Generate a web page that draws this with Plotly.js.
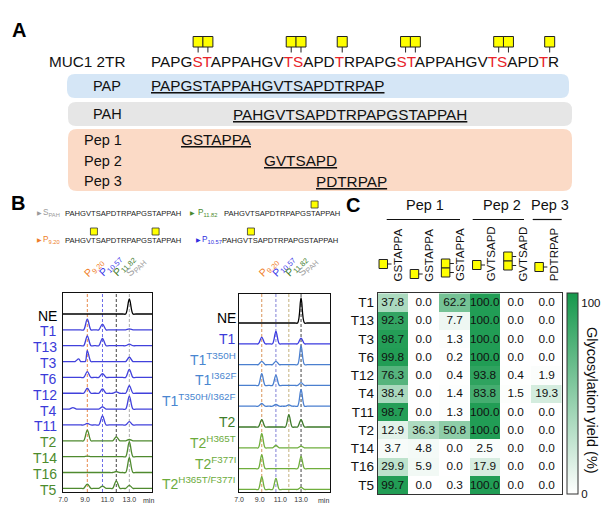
<!DOCTYPE html>
<html><head><meta charset="utf-8">
<script src="https://cdn.plot.ly/plotly-3.0.1.min.js"></script>
<style>html,body{margin:0;padding:0;background:#fff}#chart{width:615px;height:520px}</style>
</head><body><div id="chart"></div>
<script>
const FONT = 'Liberation Sans, Arial, sans-serif';
const W = 615, H = 520;
const PX = x => x / W, PY = y => 1 - y / H;

// ---------------- Panel A data ----------------
const muc1Seq = 'PAPGSTAPPAHGVTSAPDTRPAPGSTAPPAHGVTSAPDTR';
const muc1Sites = [4, 5, 13, 14, 18, 24, 25, 33, 34, 38];
const fragNames = ['PAP', 'PAH', 'Pep 1', 'Pep 2', 'Pep 3'];
const fragSeqs = ['PAPGSTAPPAHGVTSAPDTRPAP', 'PAHGVTSAPDTRPAPGSTAPPAH', 'GSTAPPA', 'GVTSAPD', 'PDTRPAP'];
const fragStart = [0, 8, 3, 11, 16];

// ---------------- Panel B data ----------------
const pahSeq = 'PAHGVTSAPDTRPAPGSTAPPAH';
const legendNames = ['S<sub>PAH</sub>', 'P<sub>11.82</sub>', 'P<sub>9.20</sub>', 'P<sub>10.57</sub>'];
const legendSites = [[], [17], [5, 17], [5]];
const rtLabels = ['P<sub>9.20</sub>', 'P<sub>10.57</sub>', 'P<sub>11.82</sub>', 'S<sub>PAH</sub>'];
const rtTimes = [9.20, 10.57, 11.82, 13.0];

const leftSamples = ['NE', 'T1', 'T13', 'T3', 'T6', 'T12', 'T4', 'T11', 'T2', 'T14', 'T16', 'T5'];
const leftP920  = [0, 10.7, 9.7, 11.0, 5.7, 5.0, 0, 1.5, 10.7, 0.5, 0, 4.3];
const leftP1057 = [0, 5.7, 7.3, 0, 3.8, 4.3, 2.3, 9.0, 0, 0, 0, 2.3];
const leftP1182 = [0, 0, 0, 0, 0, 1.3, 0, 0, 4.0, 0, 1.0, 7.5];
const leftSPAH  = [15, 1.0, 1.5, 4.3, 8.0, 7.5, 13, 3.3, 1.3, 15, 15, 3.0];
const leftMinorRT = [0, 0, 0, 8.42, 0, 0, 7.9, 0, 0, 0, 0, 0];
const leftMinorH  = [0, 0, 0, 2.7, 0, 0, 1.5, 0, 0, 0, 0, 0];

const rightSamples = ['NE', 'T1', 'T1<sup>T350H</sup>', 'T1<sup>I362F</sup>', 'T1<sup>T350H/I362F</sup>',
  'T2', 'T2<sup>H365T</sup>', 'T2<sup>F377I</sup>', 'T2<sup>H365T/F377I</sup>'];
const rightP920  = [0, 6.7, 3.3, 11.7, 2.7, 7.3, 14.3, 14.0, 12.7];
const rightP1057 = [0, 12.3, 3.3, 10.3, 1.7, 0, 2.3, 0, 11.0];
const rightP1182 = [0, 0, 0, 0, 1.3, 12.3, 0, 0, 0];
const rightSPAH  = [25, 5.7, 19, 2.7, 16.7, 7.3, 1.7, 12.3, 2.0];

// ---------------- Panel C data ----------------
const hmRows = ['T1', 'T13', 'T3', 'T6', 'T12', 'T4', 'T11', 'T2', 'T14', 'T16', 'T5'];
const hmCols = ['GSTAPPA', 'GSTAPPA', 'GSTAPPA', 'GVTSAPD', 'GVTSAPD', 'PDTRPAP'];
const colPep1a = [37.8, 92.3, 98.7, 99.8, 76.3, 38.4, 98.7, 12.9, 3.7, 29.9, 99.7];
const colPep1b = [0.0, 0.0, 0.0, 0.0, 0.0, 0.0, 0.0, 36.3, 4.8, 5.9, 0.0];
const colPep1c = [62.2, 7.7, 1.3, 0.2, 0.4, 1.4, 1.3, 50.8, 0.0, 0.0, 0.3];
const colPep2a = [100.0, 100.0, 100.0, 100.0, 93.8, 83.8, 100.0, 100.0, 2.5, 17.9, 100.0];
const colPep2b = [0.0, 0.0, 0.0, 0.0, 0.4, 1.5, 0.0, 0.0, 0.0, 0.0, 0.0];
const colPep3a = [0.0, 0.0, 0.0, 0.0, 1.9, 19.3, 0.0, 0.0, 0.0, 0.0, 0.0];
const pepGroups = ['Pep 1', 'Pep 2', 'Pep 3'];

// ---------------- helpers ----------------
const CW = {P:.667,A:.667,G:.778,S:.667,T:.611,H:.722,V:.667,D:.722,R:.722};
function charLeft(seq, idx, x0, fs) { let x = x0; for (let i = 0; i < idx; i++) x += CW[seq[i]] * fs; return x; }
function charCenter(seq, idx, x0, fs) { return charLeft(seq, idx, x0, fs) + CW[seq[idx]] * fs / 2; }

const shapes = [], annotations = [], traces = [];
function txt(text, x, y, o) {
  o = o || {};
  annotations.push({
    text, x: PX(x), y: PY(y), xref: 'paper', yref: 'paper', showarrow: false,
    xanchor: o.xanchor || 'left', yanchor: o.yanchor || 'middle', textangle: o.angle || 0,
    borderpad: 0, borderwidth: 0,
    font: {family: FONT, size: o.size || 14, color: o.color || '#111', weight: o.weight || 'normal'}
  });
}
function rectPx(x0, y0, x1, y1, fill, lc, lw) {
  shapes.push({type: 'rect', xref: 'paper', yref: 'paper', x0: PX(x0), x1: PX(x1), y0: PY(y1), y1: PY(y0),
    fillcolor: fill, line: {color: lc || '#222', width: lw === undefined ? 1 : lw}, layer: 'above'});
}
function linePx(x0, y0, x1, y1, color, w) {
  shapes.push({type: 'line', xref: 'paper', yref: 'paper', x0: PX(x0), x1: PX(x1), y0: PY(y0), y1: PY(y1),
    line: {color: color, width: w}, layer: 'above'});
}
function roundRect(x0, y0, x1, y1, r, fill) {
  const P = (x, y) => PX(x).toFixed(5) + ',' + PY(y).toFixed(5);
  const path = 'M' + P(x0 + r, y0) + ' L' + P(x1 - r, y0) + ' Q' + P(x1, y0) + ' ' + P(x1, y0 + r) +
    ' L' + P(x1, y1 - r) + ' Q' + P(x1, y1) + ' ' + P(x1 - r, y1) + ' L' + P(x0 + r, y1) +
    ' Q' + P(x0, y1) + ' ' + P(x0, y1 - r) + ' L' + P(x0, y0 + r) + ' Q' + P(x0, y0) + ' ' + P(x0 + r, y0) + ' Z';
  shapes.push({type: 'path', xref: 'paper', yref: 'paper', path, fillcolor: fill, line: {width: 0}, layer: 'below'});
}

// ---------------- Panel A ----------------
txt('<b>A</b>', 12, 30, {size: 20, color: '#000'});
const seqX0 = 150.5, seqFS = 15.3;
txt('MUC1 2TR', 49, 61.5, {size: 15.3});
let muc = '';
for (let i = 0; i < muc1Seq.length; i++) {
  muc += muc1Sites.includes(i) ? '<span style="color:#e8232a">' + muc1Seq[i] + '</span>' : muc1Seq[i];
}
txt(muc, seqX0, 61.5, {size: seqFS});
muc1Sites.forEach(s => {
  const cx = charCenter(muc1Seq, s, seqX0, seqFS);
  rectPx(cx - 5, 36.5, cx + 5, 47, '#ffff00', '#222', 1);
  linePx(cx, 47, cx, 52.5, '#222', 1);
});
roundRect(67, 74, 569, 98, 8, '#d5e6f6');
roundRect(68, 102, 572, 126, 8, '#e6e6e6');
roundRect(68, 129, 572, 191, 9, '#fbdac6');
const fragY = [86, 114, 140, 160.5, 181];
const fragLabelX = [107, 107, 103, 103, 103];
fragNames.forEach((n, i) => {
  txt(n, fragLabelX[i], fragY[i], {xanchor: 'center', size: 14.5});
  txt('<u>' + fragSeqs[i] + '</u>', charLeft(muc1Seq, fragStart[i], seqX0, seqFS), fragY[i], {size: seqFS});
});

// ---------------- Panel B ----------------
txt('<b>B</b>', 11, 203, {size: 20, color: '#000'});
const legX = [[39, 43, 65], [192, 198, 224], [39, 43, 65], [198, 202, 222]];
const legY = [213, 213, 240, 240];
const legColors = ['#9a9a9a', '#4a8a2e', '#ee7d2a', '#3030e0'];
const legFS = 7.6;
legendNames.forEach((n, i) => {
  txt('▶', legX[i][0], legY[i], {xanchor: 'center', size: 6, color: legColors[i]});
  txt(n, legX[i][1], legY[i], {size: 8.2, color: legColors[i]});
  txt(pahSeq, legX[i][2], legY[i], {size: legFS, color: '#222'});
  legendSites[i].forEach(s => {
    const cx = charCenter(pahSeq, s, legX[i][2], legFS);
    rectPx(cx - 3.5, legY[i] - 12, cx + 3.5, legY[i] - 5, '#ffff00', '#333', 0.8);
  });
});

const rtColors = ['#f07d28', '#3535e8', '#3d7a2a', '#a0a0a0'];
function chromXY(peaks, xmax) {
  const pts = [[7, 0], [xmax, 0]];
  peaks.forEach(([t, h]) => {
    if (!(h > 0)) return;
    pts.push([t - 0.6, 0], [t - 0.33, 0], [t, h], [t + 0.33, 0], [t + 0.6, 0]);
  });
  pts.sort((a, b) => a[0] - b[0]);
  return {x: pts.map(p => p[0]), y: pts.map(p => p[1])};
}

// left chromatogram
const L = {x0: 63, x1: 152, y0: 293, y1: 492, xmax: 15.05};
const leftColors = leftSamples.map((s, i) => i === 0 ? '#000' : (i <= 7 ? '#4141dc' : '#4f8a2f'));
const leftLabelColors = leftSamples.map((s, i) => i === 0 ? '#000' : (i <= 7 ? '#3b3bd9' : '#4d8b2d'));
leftSamples.forEach((s, i) => {
  const basePx = 314 + 15.85 * i;
  const off = L.y1 - basePx;
  const c = chromXY([[rtTimes[0], leftP920[i]], [rtTimes[1], leftP1057[i]], [rtTimes[2], leftP1182[i]],
    [rtTimes[3], leftSPAH[i]], [leftMinorRT[i], leftMinorH[i]]], L.xmax);
  traces.push({x: c.x, y: c.y.map(v => v + off), xaxis: 'x', yaxis: 'y', mode: 'lines',
    line: {color: leftColors[i], width: 1.3, shape: 'spline', smoothing: 1}, hoverinfo: 'skip'});
  txt(s, 57, basePx + 1.5, {xanchor: 'right', size: 14, color: leftLabelColors[i]});
});

// right chromatogram
const R = {x0: 239, x1: 330, y0: 294, y1: 492, xmax: 15.8};
const rightColors = ['#000', '#3a3ae0', '#4a7fcf', '#4a7fcf', '#4a7fcf', '#3d7a2a', '#6fae3c', '#6fae3c', '#6fae3c'];
const rightLabelColors = ['#000', '#3b3bd9', '#4a86d0', '#4a86d0', '#4a86d0', '#3f7d2a', '#6cab3c', '#6cab3c', '#6cab3c'];
rightSamples.forEach((s, i) => {
  const basePx = 323 + 20.8 * i;
  const off = R.y1 - basePx;
  const c = chromXY([[rtTimes[0], rightP920[i]], [rtTimes[1], rightP1057[i]], [rtTimes[2], rightP1182[i]],
    [rtTimes[3], rightSPAH[i]]], R.xmax);
  traces.push({x: c.x, y: c.y.map(v => v + off), xaxis: 'x2', yaxis: 'y2', mode: 'lines',
    line: {color: rightColors[i], width: 1.3, shape: 'spline', smoothing: 1}, hoverinfo: 'skip'});
  txt(s, 236, basePx + 3, {xanchor: 'right', yanchor: 'bottom', size: 14, color: rightLabelColors[i]});
});

// markers, dashed lines, rotated labels for both panels
const dashColors = [['#e8894a', '#6a6ae8', '#444444', '#aaaaaa'], ['#d9955a', '#7f7fd6', '#c4b07c', '#444444']];
[['x', 'y', L, 208], ['x2', 'y2', R, 207]].forEach(([xa, ya, P, ym], pi) => {
  traces.push({x: rtTimes, y: rtTimes.map(() => ym), xaxis: xa, yaxis: ya, mode: 'markers', cliponaxis: false,
    marker: {symbol: 'triangle-down', size: 8.5, color: rtColors, line: {width: 0}}, hoverinfo: 'skip'});
  rtTimes.forEach((t, k) => {
    shapes.push({type: 'line', xref: xa, yref: ya + ' domain', x0: t, x1: t, y0: 0, y1: 1,
      line: {color: dashColors[pi][k], width: 1, dash: '3px,2px'}, layer: 'below'});
    annotations.push({text: rtLabels[k], xref: xa, yref: 'paper', x: t, xshift: -6, y: PY(280),
      xanchor: 'left', yanchor: 'bottom', textangle: -45, showarrow: false, borderpad: 0, borderwidth: 0,
      font: {family: FONT, size: 10.5, color: rtColors[k]}});
  });
  annotations.push({text: 'min', xref: xa, yref: 'paper', x: pi === 0 ? 14.75 : 15.2, y: PY(500), showarrow: false,
    xanchor: 'center', yanchor: 'middle', font: {family: FONT, size: 7, color: '#333'}});
});

// ---------------- Panel C ----------------
txt('<b>C</b>', 346, 205, {size: 20, color: '#000'});
const HM = {x0: 377.7, x1: 561.7, y0: 293.3, y1: 494};
const cellW = (HM.x1 - HM.x0) / 6;
const colCx = j => HM.x0 + (j + 0.5) * cellW;
const pepTextX = [425, 501.7, 550];
const pepLine = [[386.7, 460], [472.7, 524], [532.7, 561.7]];
pepGroups.forEach((g, i) => {
  txt(g, pepTextX[i], 205, {xanchor: 'center', size: 14.5});
  linePx(pepLine[i][0], 219.5, pepLine[i][1], 219.5, '#111', 1.2);
});
const glyY = [[264], [274], [263.5, 272.5], [265], [256.5, 265.5], [267]];
hmCols.forEach((c, j) => {
  const cx = colCx(j);
  txt(c, cx + 4.5 + 0.6 * j, 281.5, {xanchor: 'center', yanchor: 'bottom', angle: -90, size: 11.5});
  const gl = cx - 14 + 0.5 * j;
  glyY[j].forEach(yc => {
    rectPx(gl, yc - 4.5, gl + 8.5, yc + 4.5, '#ffff00', '#222', 1);
    linePx(gl + 8.5, yc, gl + 12.5, yc, '#222', 1);
  });
});
const z = hmRows.map((r, i) => [colPep1a[i], colPep1b[i], colPep1c[i], colPep2a[i], colPep2b[i], colPep3a[i]]);
traces.push({
  type: 'heatmap', z, x: [0, 1, 2, 3, 4, 5], y: hmRows, xaxis: 'x3', yaxis: 'y3',
  zmin: 0, zmax: 105, colorscale: [[0, '#ffffff'], [1, '#16984c']],
  texttemplate: '%{z:.1f}', textfont: {family: FONT, size: 11.8, color: '#111'}, hoverinfo: 'skip',
  colorbar: {x: PX(566.7), xanchor: 'left', y: PY(HM.y0), yanchor: 'top', len: (HM.y1 - HM.y0) / H, lenmode: 'fraction',
    thickness: 11, thicknessmode: 'pixels', xpad: 0, ypad: 0, outlinewidth: 1, outlinecolor: '#333',
    tickvals: [0, 100], ticktext: ['0', '100'], ticks: '', tickfont: {family: FONT, size: 11.5, color: '#111'}}
});
txt('Glycosylation yield (%)', 592, 400, {xanchor: 'center', angle: 90, size: 14.5});

const axBase = {showgrid: false, zeroline: false, showline: true, mirror: true, linecolor: '#111', linewidth: 1.3, ticks: ''};
const layout = {
  width: W, height: H, margin: {l: 0, r: 0, t: 0, b: 0}, paper_bgcolor: '#fff', plot_bgcolor: 'rgba(0,0,0,0)',
  showlegend: false, font: {family: FONT, color: '#111'},
  xaxis: Object.assign({}, axBase, {domain: [PX(L.x0), PX(L.x1)], range: [7, L.xmax], anchor: 'y',
    tickvals: [7, 9, 11, 13], ticktext: ['7.0', '9.0', '11.0', '13.0'], tickfont: {size: 7, color: '#333'}}),
  yaxis: Object.assign({}, axBase, {domain: [PY(L.y1), PY(L.y0)], range: [0, L.y1 - L.y0], anchor: 'x', showticklabels: false}),
  xaxis2: Object.assign({}, axBase, {domain: [PX(R.x0), PX(R.x1)], range: [7, R.xmax], anchor: 'y2',
    tickvals: [7, 9, 11, 13], ticktext: ['7.0', '9.0', '11.0', '13.0'], tickfont: {size: 7, color: '#333'}}),
  yaxis2: Object.assign({}, axBase, {domain: [PY(R.y1), PY(R.y0)], range: [0, R.y1 - R.y0], anchor: 'x2', showticklabels: false}),
  xaxis3: Object.assign({}, axBase, {domain: [PX(HM.x0), PX(HM.x1)], range: [-0.5, 5.5], anchor: 'y3', showticklabels: false, linewidth: 1, linecolor: '#333'}),
  yaxis3: Object.assign({}, axBase, {domain: [PY(HM.y1), PY(HM.y0)], anchor: 'x3', type: 'category', autorange: 'reversed',
    linewidth: 1, linecolor: '#333', tickfont: {size: 13.5, color: '#111'}}),
  shapes, annotations
};
Plotly.newPlot('chart', traces, layout, {staticPlot: true, displayModeBar: false});
</script></body></html>
